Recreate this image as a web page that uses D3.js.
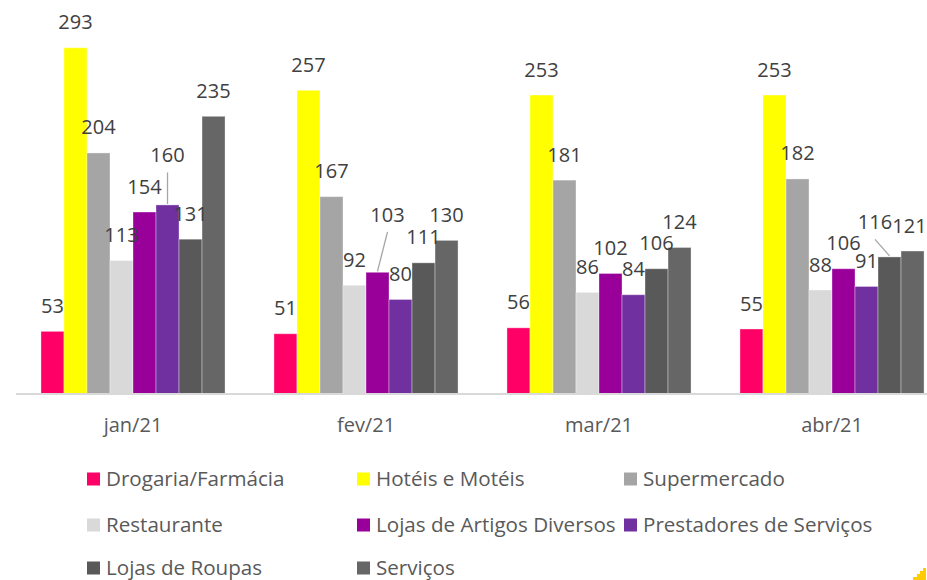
<!DOCTYPE html>
<html><head><meta charset="utf-8">
<script src="https://cdn.jsdelivr.net/npm/d3@7/dist/d3.min.js"></script>
<style>
html,body{margin:0;padding:0;background:#fff;}
svg{display:block;font-family:"Open Sans",sans-serif;}
</style></head>
<body><svg id="chart" width="927" height="580"></svg>
<script>
const months = ["jan/21","fev/21","mar/21","abr/21"];
const seriesNames = ["Drogaria/Farmácia","Hotéis e Motéis","Supermercado","Restaurante","Lojas de Artigos Diversos","Prestadores de Serviços","Lojas de Roupas","Serviços"];
const drogaria = [53,51,56,55];
const hoteis = [293,257,253,253];
const supermercado = [204,167,181,182];
const restaurante = [113,92,86,88];
const lojasArtigos = [154,103,102,106];
const prestadores = [160,80,84,91];
const lojasRoupas = [131,111,106,116];
const servicos = [235,130,124,121];
const seriesValues = [drogaria,hoteis,supermercado,restaurante,lojasArtigos,prestadores,lojasRoupas,servicos];
const colors = ["#FF0066","#FFFF00","#A5A5A5","#D9D9D9","#990099","#7030A0","#595959","#666666"];
// label nudges (series index, month index, dx, dy, leader line?)
const labelNudges = [[5,0,0,-24,true],[4,1,10,-32,true],[6,3,-14.5,-9,true],[7,3,-3,0,false]];

const svg = d3.select("#chart");
const x0 = d3.scaleBand().domain(months).range([16.5,948.5]).paddingInner(0.21).paddingOuter(0.105);
const x1 = d3.scaleBand().domain(d3.range(seriesNames.length)).range([0,x0.bandwidth()]);
const y = d3.scaleLinear().domain([0,300]).range([394,39.5]);

const data = [];
seriesValues.forEach((vals,s)=>vals.forEach((v,m)=>data.push({s,m,v})));

const g = svg.append("g");
g.selectAll("rect.bar").data(data).join("rect")
  .attr("class","bar")
  .attr("x",d=>x0(months[d.m])+x1(d.s))
  .attr("y",d=>y(d.v))
  .attr("width",x1.bandwidth())
  .attr("height",d=>y(0)-y(d.v))
  .attr("fill",d=>colors[d.s])
  .attr("stroke","#fff").attr("stroke-opacity",0.35).attr("stroke-width",1);

// axis
const axis = d3.axisBottom(x0).tickSize(0).tickPadding(0);
const ax = svg.append("g").attr("transform","translate(0,394)").call(axis);
ax.select(".domain").attr("d","M16,0H927").attr("stroke","#D9D9D9").attr("stroke-width",2);
ax.selectAll(".tick text").attr("y",38).attr("dy",null).attr("fill","#595959")
  .style("font-family","'Open Sans',sans-serif").attr("font-size",20);

// labels
const nudgeOf = d => labelNudges.find(n=>n[0]===d.s && n[1]===d.m);
const cx = d => x0(months[d.m])+x1(d.s)+x1.bandwidth()/2;
const lbl = svg.append("g").attr("font-size",20).attr("fill","#404040").attr("text-anchor","middle");
data.forEach(d=>{
  const n = nudgeOf(d);
  const dx = n?n[2]:0, dy = n?n[3]:0;
  const lx = cx(d)+dx, ly = y(d.v)-18.5+dy;
  if(n && n[4]){
    svg.append("line").attr("x1",lx).attr("y1",ly+10).attr("x2",cx(d)).attr("y2",y(d.v)-1)
      .attr("stroke","#A6A6A6").attr("stroke-width",1.3);
  }
  lbl.append("text").attr("x",lx).attr("y",ly).text(d.v);
});

// legend
const legCols = [87,357,624], legRows = [479,525,568];
const leg = svg.append("g").attr("font-size",20.6).attr("fill","#595959");
seriesNames.forEach((name,i)=>{
  const lx = legCols[i%3], ly = legRows[Math.floor(i/3)];
  leg.append("rect").attr("x",lx).attr("y",ly-6.5).attr("width",13).attr("height",13).attr("fill",colors[i]);
  leg.append("text").attr("x",lx+19).attr("y",ly+7).text(name);
});

// small yellow corner decoration
svg.append("path").attr("d","M913,580 L926,580 L926,568 L923,568 L923,571 L920,571 L920,574 L917,574 L917,577 L913,577 Z").attr("fill","#FFCC00");
</script></body></html>
